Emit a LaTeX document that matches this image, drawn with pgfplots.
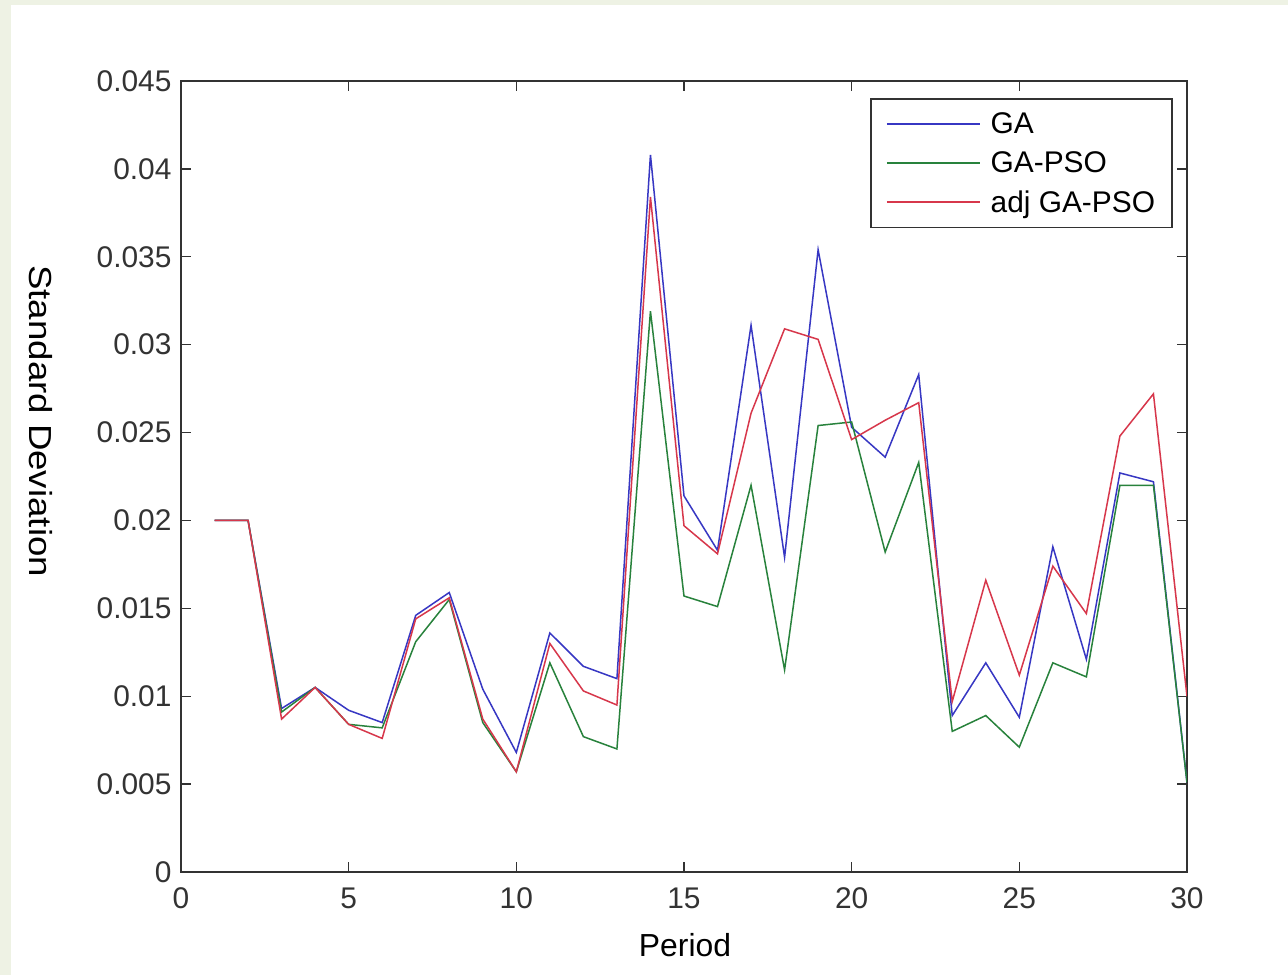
\documentclass[border=0pt]{standalone}
\usepackage{fontspec}
\setmainfont{Liberation Sans}
\usepackage{graphicx}
\usepackage{pgfplots}
\pgfplotsset{compat=1.18}
\usepackage{pgfplotstable}
\definecolor{pagebg}{RGB}{238,242,228}
\definecolor{cGA}{RGB}{55,55,195}
\definecolor{cGAPSO}{RGB}{40,130,60}
\definecolor{cADJ}{RGB}{215,55,75}
\definecolor{axgray}{RGB}{50,50,50}

\pgfplotstableread{
x GA GAPSO ADJ
1 0.0200 0.0200 0.0200
2 0.0200 0.0200 0.0200
3 0.0093 0.0091 0.0087
4 0.0105 0.0105 0.0105
5 0.0092 0.0084 0.0084
6 0.0085 0.0082 0.0076
7 0.0146 0.0131 0.0144
8 0.0159 0.0155 0.0156
9 0.0104 0.0085 0.0087
10 0.0068 0.0057 0.0057
11 0.0136 0.0119 0.0130
12 0.0117 0.0077 0.0103
13 0.0110 0.0070 0.0095
14 0.0408 0.0319 0.0384
15 0.0214 0.0157 0.0197
16 0.0183 0.0151 0.0181
17 0.0311 0.0220 0.0261
18 0.0179 0.0115 0.0309
19 0.0354 0.0254 0.0303
20 0.0253 0.0256 0.0246
21 0.0236 0.0182 0.0257
22 0.0283 0.0233 0.0267
23 0.0089 0.0080 0.0097
24 0.0119 0.0089 0.0166
25 0.0088 0.0071 0.0112
26 0.0185 0.0119 0.0174
27 0.0121 0.0111 0.0147
28 0.0227 0.0220 0.0248
29 0.0222 0.0220 0.0272
30 0.0051 0.0051 0.0100
}\datatable

\begin{document}
\begin{tikzpicture}
\fill[pagebg] (0,0) rectangle (1288bp,975bp);
\fill[white] (11bp,0) rectangle (1288bp,970bp);
\begin{axis}[
  scale only axis,
  width=1006bp, height=791bp,
  at={(181bp,103bp)}, anchor=south west,
  xmin=0, xmax=30, ymin=0, ymax=0.045,
  xtick={0,5,...,30},
  ytick={0,0.005,0.01,0.015,0.02,0.025,0.03,0.035,0.04,0.045},
  yticklabels={0,0.005,0.01,0.015,0.02,0.025,0.03,0.035,0.04,0.045},
  scaled y ticks=false,
  /pgf/number format/assume math mode=true,
  tick label style={font=\fontsize{30}{36}\selectfont, text=black!80},
  xticklabel style={yshift=-12bp},
  yticklabel style={xshift=-6bp},
  major tick length=10bp,
  tick style={axgray, line width=1.4bp},
  axis line style={axgray, line width=1.6bp},
  every axis x label/.style={at={(axis description cs:0.501,-0.0923)}, anchor=center},
  every axis y label/.style={at={(axis description cs:-0.139,0.570)}, anchor=center, rotate=-90},
  xlabel={\fontsize{32}{38}\selectfont Period},
  ylabel={\scalebox{1.15}[1]{\fontsize{32}{38}\selectfont Standard Deviation}},
  legend style={at={(rel axis cs:0.986,0.9785)}, anchor=north east,
    draw=axgray, line width=1.6bp, font=\fontsize{30}{36}\selectfont,
    inner xsep=15bp, inner ysep=12bp, row sep=12.5bp, column sep=8bp},
  legend cell align=left,
  legend image code/.code={\draw[#1, line width=1.5bp] (0bp,0bp) -- (93bp,0bp);},
]
\addplot[cGA, line width=1.5bp] table[x=x, y=GA] {\datatable};
\addlegendentry{GA}
\addplot[cGAPSO, line width=1.5bp] table[x=x, y=GAPSO] {\datatable};
\addlegendentry{GA-PSO}
\addplot[cADJ, line width=1.5bp] table[x=x, y=ADJ] {\datatable};
\addlegendentry{adj GA-PSO}
\end{axis}
\pgfresetboundingbox
\useasboundingbox (0,0) rectangle (1288bp,975bp);
\end{tikzpicture}
\end{document}
